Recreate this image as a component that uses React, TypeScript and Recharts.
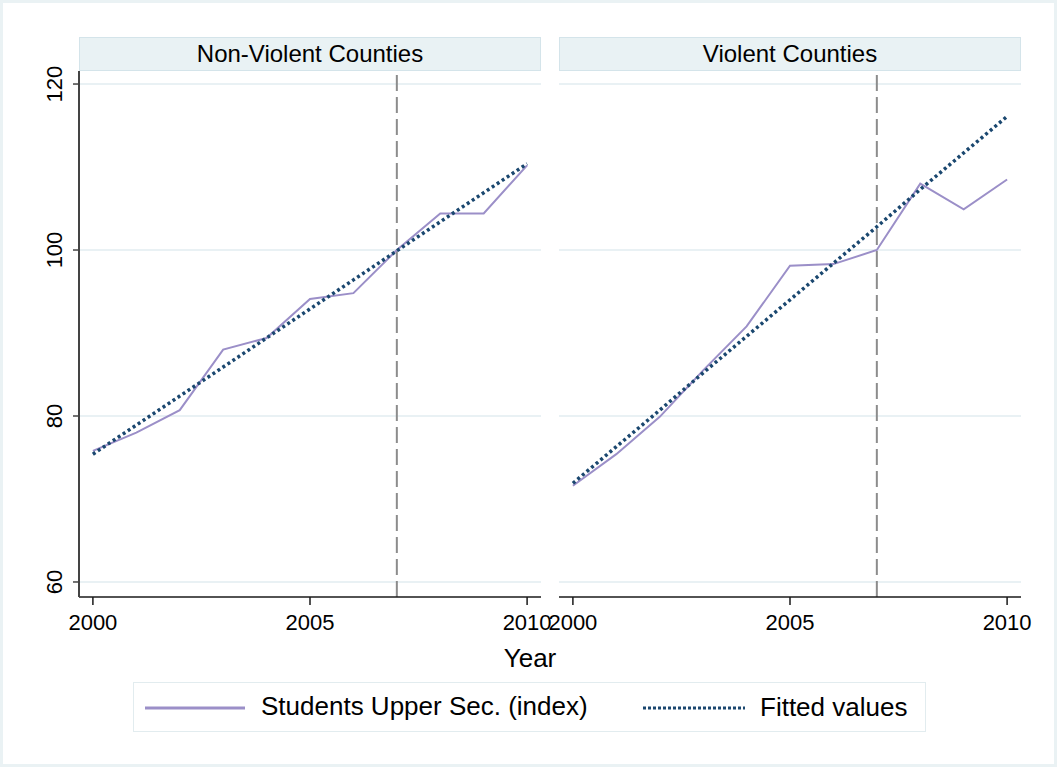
import { LineChart, Line, XAxis, YAxis, ReferenceLine } from "recharts";

const years = [2000, 2001, 2002, 2003, 2004, 2005, 2006, 2007, 2008, 2009, 2010];

// Students in upper secondary (index) and linear fit, by county group
const nonViolentStudents = [75.8, 78.0, 80.7, 88.0, 89.4, 94.1, 94.8, 100.0, 104.4, 104.4, 110.2];
const nonViolentFitted = [75.4, 78.9, 82.4, 85.9, 89.4, 92.9, 96.4, 99.9, 103.4, 106.9, 110.4];
const violentStudents = [71.6, 75.4, 79.9, 85.5, 90.8, 98.1, 98.3, 100.0, 108.0, 104.9, 108.5];
const violentFitted = [71.9, 76.3, 80.7, 85.2, 89.6, 94.0, 98.4, 102.8, 107.3, 111.7, 116.1];

const panelTitles = ["Non-Violent Counties", "Violent Counties"];
const xTicks = [2000, 2005, 2010];
const yTicks = [60, 80, 100, 120];
const breakYear = 2007;

const FONT = "'Liberation Sans', Arial, Helvetica, sans-serif";
const PURPLE = "#9b8fc8";
const NAVY = "#1a476f";
const GRID = "#e2edf1";

const buildRows = (students: number[], fitted: number[]) =>
  years.map((year, i) => ({ year, students: students[i], fitted: fitted[i] }));

const RotatedTick = (props: any) => {
  const { x, y, payload } = props;
  return (
    <text
      x={x}
      y={y}
      transform={`rotate(-90, ${x}, ${y})`}
      textAnchor="middle"
      fontSize={22}
      fontFamily={FONT}
      fill="#000"
    >
      {payload.value}
    </text>
  );
};

// each panel's svg is wider than its plot so edge tick labels are not clipped
const SIDE = 34;

function Panel({
  rows,
  title,
  plotLeft,
  showYAxis,
}: {
  rows: { year: number; students: number; fitted: number }[];
  title: string;
  plotLeft: number;
  showYAxis: boolean;
}) {
  const plotWidth = 462;
  const axisWidth = showYAxis ? 79 : 0;
  const left = showYAxis ? 0 : plotLeft - SIDE;
  const width = showYAxis ? plotLeft + plotWidth + SIDE : plotWidth + 2 * SIDE;
  return (
    <>
      <div
        style={{
          position: "absolute",
          left: plotLeft,
          top: 37,
          width: plotWidth,
          height: 34,
          boxSizing: "border-box",
          background: "#e9f2f4",
          border: "1px solid #d4e4ea",
          fontFamily: FONT,
          fontSize: 24,
          lineHeight: "32px",
          textAlign: "center",
          color: "#000",
        }}
      >
        {title}
      </div>
      <div style={{ position: "absolute", left, top: 0 }}>
        <LineChart
          width={width}
          height={640}
          data={rows}
          margin={{ top: 71, right: SIDE, bottom: 0, left: showYAxis ? plotLeft - axisWidth : SIDE }}
        >
          <XAxis
            dataKey="year"
            type="number"
            domain={[1999.68, 2010.32]}
            allowDataOverflow
            ticks={xTicks}
            interval={0}
            height={43}
            tickSize={8}
            tickMargin={9}
            axisLine={{ stroke: "#1a1a1a", strokeWidth: 1.5 }}
            tickLine={{ stroke: "#1a1a1a", strokeWidth: 1.5 }}
            tick={{ fill: "#000", fontSize: 22, fontFamily: FONT }}
          />
          <YAxis
            type="number"
            domain={[58.19, 121.57]}
            allowDataOverflow
            ticks={yTicks}
            interval={0}
            width={axisWidth}
            hide={!showYAxis}
            tickSize={6}
            tickMargin={11}
            axisLine={{ stroke: "#444", strokeWidth: 2 }}
            tickLine={{ stroke: "#444", strokeWidth: 1.5 }}
            tick={<RotatedTick />}
          />
          {yTicks.map((v) => (
            <ReferenceLine key={v} y={v} stroke={GRID} strokeWidth={1.5} />
          ))}
          <ReferenceLine x={breakYear} stroke="#8c8c8c" strokeWidth={2} strokeDasharray="16 6" />
          <Line
            type="linear"
            dataKey="students"
            stroke={PURPLE}
            strokeWidth={2}
            dot={false}
            isAnimationActive={false}
          />
          <Line
            type="linear"
            dataKey="fitted"
            stroke={NAVY}
            strokeWidth={3.5}
            strokeDasharray="3 3"
            dot={false}
            isAnimationActive={false}
          />
        </LineChart>
      </div>
    </>
  );
}

export default function App() {
  return (
    <div
      style={{
        position: "absolute",
        left: 0,
        top: 0,
        width: 1057,
        height: 767,
        boxSizing: "border-box",
        border: "3px solid #eaf2f4",
        background: "#fff",
        overflow: "hidden",
      }}
    >
      <div style={{ position: "absolute", left: -3, top: -3, width: 1057, height: 767 }}>
        <Panel rows={buildRows(nonViolentStudents, nonViolentFitted)} title={panelTitles[0]} plotLeft={79} showYAxis />
        <Panel rows={buildRows(violentStudents, violentFitted)} title={panelTitles[1]} plotLeft={559} showYAxis={false} />

        <div
          style={{
            position: "absolute",
            left: 430,
            width: 200,
            top: 643,
            textAlign: "center",
            fontFamily: FONT,
            fontSize: 26,
            color: "#000",
          }}
        >
          Year
        </div>

        <div
          style={{
            position: "absolute",
            left: 133,
            top: 682,
            width: 793,
            height: 50,
            boxSizing: "border-box",
            border: "1px solid #e2ecef",
            background: "#fff",
            fontFamily: FONT,
            fontSize: 26,
            color: "#000",
          }}
        >
          <svg style={{ position: "absolute", left: 10, top: 0 }} width={102} height={50}>
            <line x1={1} y1={25} x2={101} y2={25} stroke={PURPLE} strokeWidth={3} />
          </svg>
          <div style={{ position: "absolute", left: 127, top: 8, whiteSpace: "nowrap" }}>
            Students Upper Sec. (index)
          </div>
          <svg style={{ position: "absolute", left: 508, top: 0 }} width={104} height={50}>
            <line x1={1} y1={25} x2={103} y2={25} stroke={NAVY} strokeWidth={3} strokeDasharray="3 2" />
          </svg>
          <div style={{ position: "absolute", left: 626, top: 9, whiteSpace: "nowrap" }}>
            Fitted values
          </div>
        </div>
      </div>
    </div>
  );
}
